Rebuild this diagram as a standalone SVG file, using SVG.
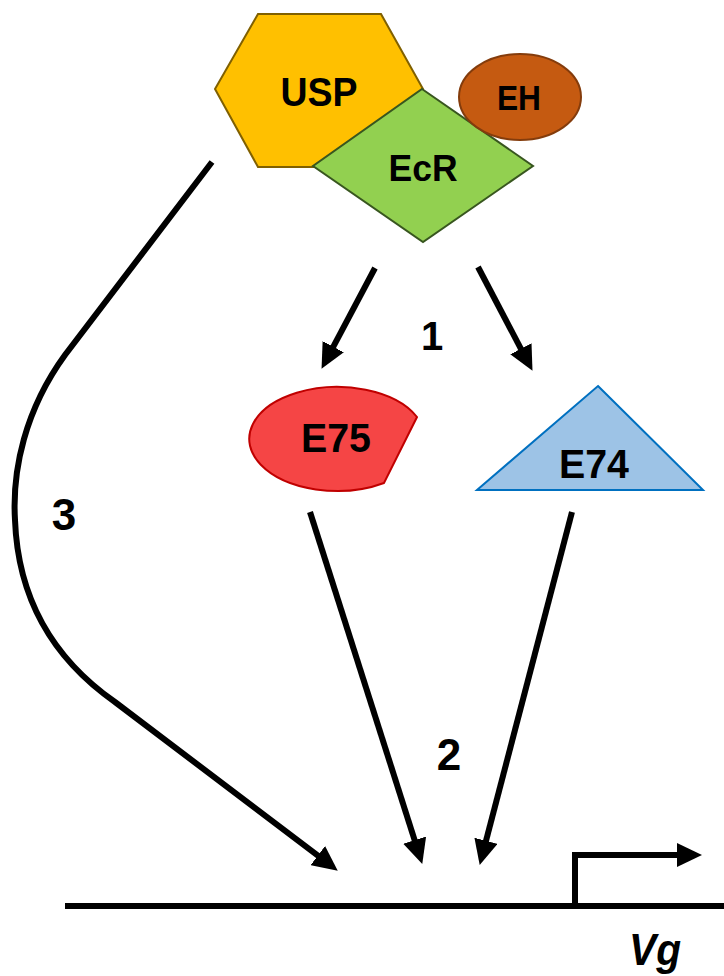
<svg xmlns="http://www.w3.org/2000/svg" width="724" height="976" viewBox="0 0 724 976">
  <style>
    .lbl { font-family: "Liberation Sans", Arial, sans-serif; font-weight: bold; fill: #000; text-anchor: middle; }
    .conn { fill: none; stroke: #000; stroke-width: 6; }
    .shape { stroke-width: 2; stroke-linejoin: miter; }
  </style>
  <defs>
    <marker id="head" markerUnits="userSpaceOnUse" markerWidth="26" markerHeight="24" refX="8" refY="12" orient="auto">
      <path d="M0,0 L25,12 L0,24 Z" fill="#000"/>
    </marker>
  </defs>

  <rect width="724" height="976" fill="#fff"/>

  <!-- receptor complex -->
  <g id="usp">
    <polygon class="shape" points="258,14 381,14 423,89 381,167 258,167 215,89" fill="#FFC000" stroke="#806000"/>
    <text class="lbl" x="319" y="106" font-size="40" textLength="77" lengthAdjust="spacingAndGlyphs">USP</text>
  </g>
  <g id="ecr">
    <polygon class="shape" points="422,89 533,166 423,242 313,166" fill="#92D050" stroke="#38561F"/>
    <text class="lbl" x="423" y="181" font-size="37" textLength="69" lengthAdjust="spacingAndGlyphs">EcR</text>
  </g>
  <g id="eh">
    <ellipse class="shape" cx="520" cy="97" rx="61" ry="43" fill="#C55A11" stroke="#843C0C"/>
    <text class="lbl" x="519" y="110" font-size="35" textLength="44" lengthAdjust="spacingAndGlyphs">EH</text>
  </g>

  <!-- early genes -->
  <g id="e75">
    <path class="shape" d="M417,417 A88,52 0 1 0 384,483 Z" fill="#F54545" stroke="#C00000"/>
    <text class="lbl" x="336" y="452" font-size="40" textLength="70" lengthAdjust="spacingAndGlyphs">E75</text>
  </g>
  <g id="e74">
    <polygon class="shape" points="598,386 703,490 477,490" fill="#9DC3E6" stroke="#0070C0"/>
    <text class="lbl" x="594" y="478" font-size="40" textLength="70" lengthAdjust="spacingAndGlyphs">E74</text>
  </g>

  <!-- Vg gene with promoter -->
  <g id="vg">
    <line x1="65" y1="906" x2="724" y2="906" stroke="#000" stroke-width="6"/>
    <polyline points="575,906 575,855 680,855" fill="none" stroke="#000" stroke-width="6"/>
    <polygon points="677,843 702,855 677,867" fill="#000"/>
    <text class="lbl" x="655" y="965" font-size="44" font-style="italic" textLength="52" lengthAdjust="spacingAndGlyphs">Vg</text>
  </g>

  <!-- regulatory connections -->
  <g id="connectors">
    <line class="conn" x1="375" y1="268" x2="329.5" y2="353.8" marker-end="url(#head)"/>
    <line class="conn" x1="478" y1="267" x2="524.6" y2="355.8" marker-end="url(#head)"/>
    <line class="conn" x1="310" y1="512" x2="417.1" y2="847.8" marker-end="url(#head)"/>
    <line class="conn" x1="572" y1="512" x2="484.0" y2="848.5" marker-end="url(#head)"/>
    <path class="conn" d="M212,162 L65,355 C25,410 12,470 15,520 C18,600 55,660 115,702 L324.2,860.4" marker-end="url(#head)"/>
    <text class="lbl" x="432" y="350" font-size="40">1</text>
    <text class="lbl" x="449" y="770" font-size="44">2</text>
    <text class="lbl" x="64" y="530" font-size="44">3</text>
  </g>
</svg>
